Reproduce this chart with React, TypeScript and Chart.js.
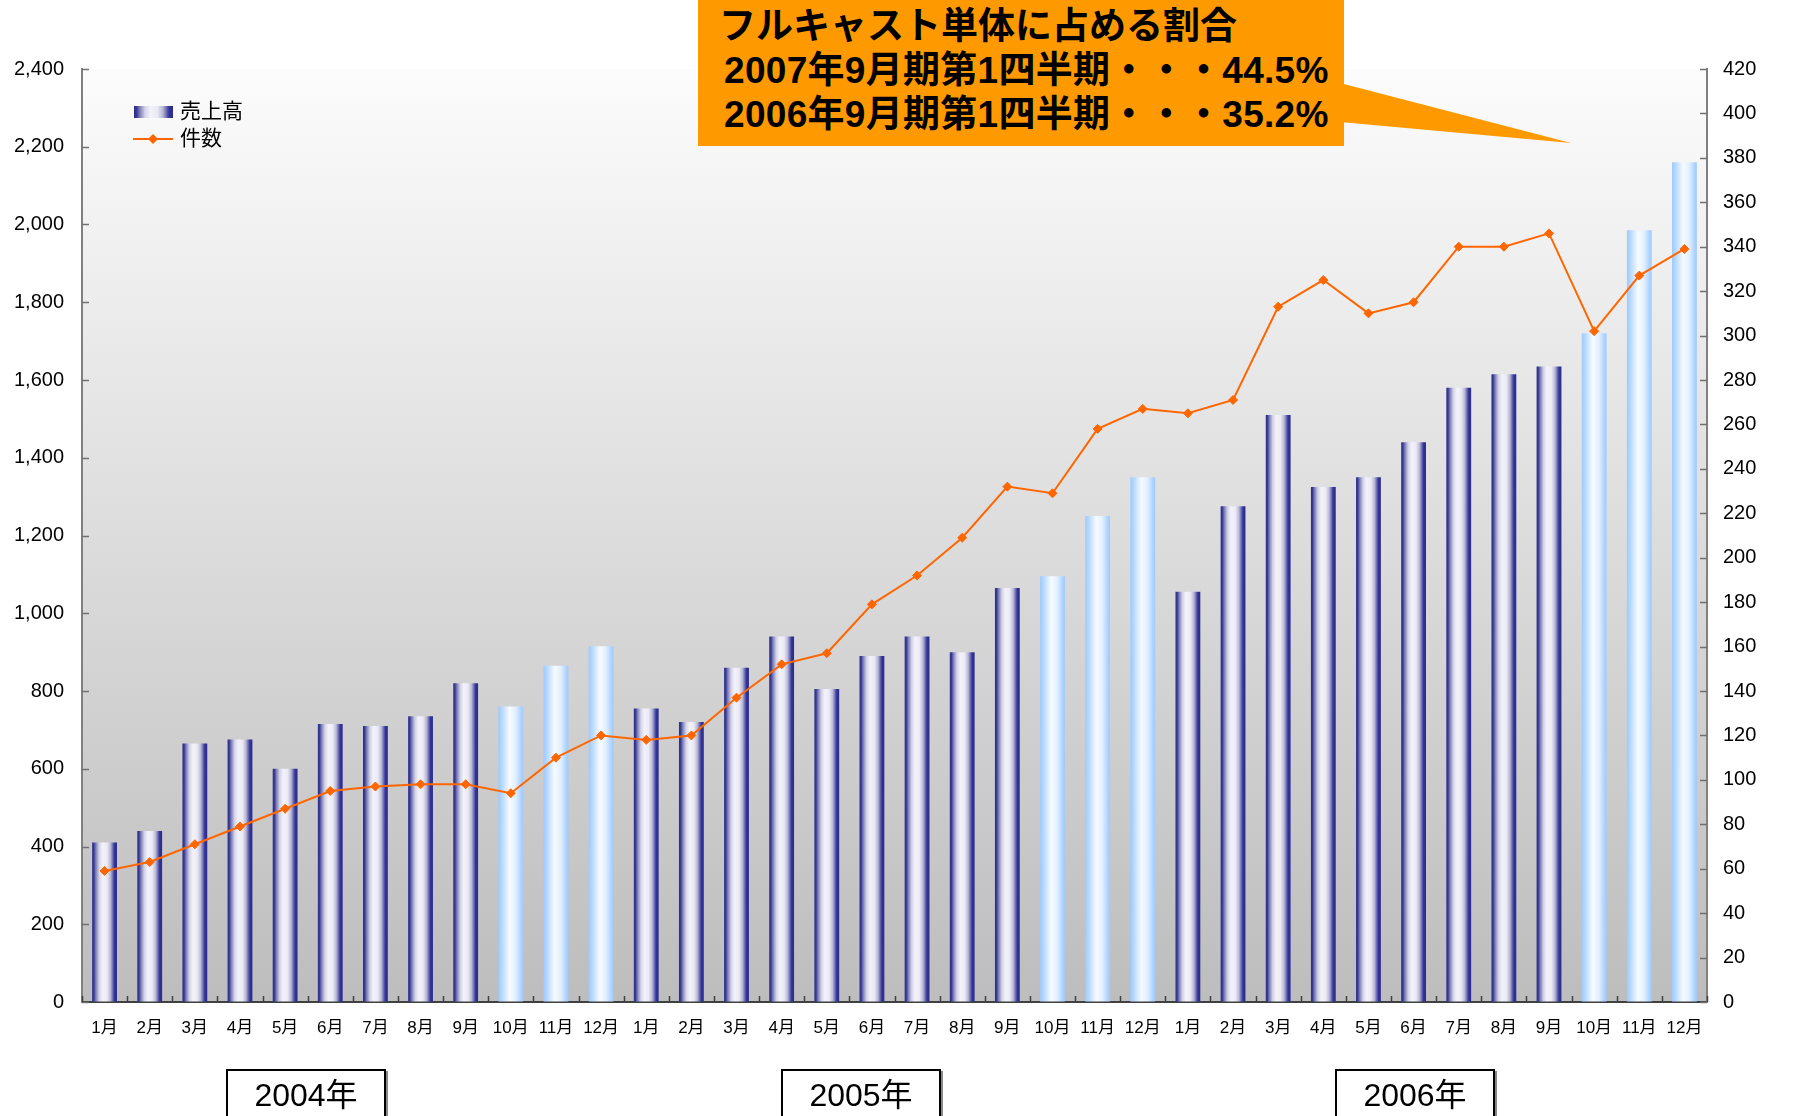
import React, { useEffect, useRef } from "react";
import { Chart, registerables } from "chart.js";

Chart.register(...registerables);

// ---------- data ----------
const months = ["1月", "2月", "3月", "4月", "5月", "6月", "7月", "8月", "9月", "10月", "11月", "12月"];
const years = ["2004年", "2005年", "2006年"];
const categories = years.flatMap(() => months);

const sales2004 = [410, 440, 665, 675, 600, 715, 710, 735, 820, 760, 865, 915];
const sales2005 = [755, 720, 860, 940, 805, 890, 940, 900, 1065, 1095, 1250, 1350];
const sales2006 = [1055, 1275, 1510, 1325, 1350, 1440, 1580, 1615, 1635, 1720, 1985, 2160];
const salesValues = [...sales2004, ...sales2005, ...sales2006];

const count2004 = [59, 63, 71, 79, 87, 95, 97, 98, 98, 94, 110, 120];
const count2005 = [118, 120, 137, 152, 157, 179, 192, 209, 232, 229, 258, 267];
const count2006 = [265, 271, 313, 325, 310, 315, 340, 340, 346, 302, 327, 339];
const countValues = [...count2004, ...count2005, ...count2006];

const salesAxis = { min: 0, max: 2400, step: 200 };
const countAxis = { min: 0, max: 420, step: 20 };

const seriesNames = ["売上高", "件数"];
const calloutLines = [
  "フルキャスト単体に占める割合",
  "2007年9月期第1四半期・・・44.5%",
  "2006年9月期第1四半期・・・35.2%",
];

// ---------- styles ----------
const W = 1807;
const H = 1116;
const BAR_PCT = 0.55;
const FONT = "'Liberation Sans', Arial, 'Noto Sans CJK JP', sans-serif";

const darkStops: [number, string][] = [
  [0, "#2b2b8c"],
  [0.07, "#3a3a98"],
  [0.14, "#7878b0"],
  [0.28, "#d2d2e8"],
  [0.42, "#f4f2f9"],
  [0.6, "#ebe9f4"],
  [0.74, "#b8b8d6"],
  [0.85, "#5c5caa"],
  [0.9, "#333399"],
  [1, "#2b2b8c"],
];
const lightStops: [number, string][] = [
  [0, "#9ccaff"],
  [0.15, "#b8d9ff"],
  [0.45, "#f7fbff"],
  [0.7, "#e0efff"],
  [0.9, "#b0d4ff"],
  [1, "#9ccaff"],
];

const isQ4 = (i: number) => i % 12 >= 9;

const barBg = (ctx: any) => {
  const chart = ctx.chart;
  const xs = chart.scales && chart.scales.x;
  if (!chart.chartArea || !xs || ctx.type !== "data") return "#333399";
  const i = ctx.dataIndex;
  const cx = xs.getPixelForValue(i);
  const w = (xs.width / categories.length) * BAR_PCT;
  const g = chart.ctx.createLinearGradient(cx - w / 2, 0, cx + w / 2, 0);
  (isQ4(i) ? lightStops : darkStops).forEach(([o, c]) => g.addColorStop(o, c));
  return g;
};

const bgPlugin = {
  id: "plotBg",
  beforeDraw(chart: any) {
    const { ctx, chartArea } = chart;
    const { left, top, right, bottom } = chartArea;
    ctx.save();
    ctx.fillStyle = "#ffffff";
    ctx.fillRect(0, 0, chart.width, chart.height);
    const g = ctx.createLinearGradient(0, top, 0, bottom);
    g.addColorStop(0, "#fcfcfc");
    g.addColorStop(1, "#bdbdbd");
    ctx.fillStyle = g;
    ctx.fillRect(left, top, right - left, bottom - top);
    ctx.restore();
  },
};

const ticksPlugin = {
  id: "innerTicks",
  afterDraw(chart: any) {
    const { ctx, chartArea, scales } = chart;
    const { left, right, bottom } = chartArea;
    ctx.save();
    ctx.lineWidth = 1.5;
    ctx.strokeStyle = "#707070";
    for (let v = salesAxis.min; v <= salesAxis.max; v += salesAxis.step) {
      const y = Math.round(scales.y.getPixelForValue(v)) + 0.5;
      ctx.beginPath();
      ctx.moveTo(left, y);
      ctx.lineTo(left + 7, y);
      ctx.stroke();
    }
    for (let v = countAxis.min; v <= countAxis.max; v += countAxis.step) {
      const y = Math.round(scales.y1.getPixelForValue(v)) + 0.5;
      ctx.beginPath();
      ctx.moveTo(right - 7, y);
      ctx.lineTo(right, y);
      ctx.stroke();
    }
    ctx.strokeStyle = "#404040";
    const n = categories.length;
    for (let i = 0; i <= n; i++) {
      const x = Math.round(left + ((right - left) * i) / n) + 0.5;
      ctx.beginPath();
      ctx.moveTo(x, bottom);
      ctx.lineTo(x, bottom - 6);
      ctx.stroke();
    }
    ctx.restore();
  },
};

const legendPlugin = {
  id: "customLegend",
  afterDraw(chart: any) {
    const { ctx } = chart;
    ctx.save();
    // bar swatch
    const g = ctx.createLinearGradient(134, 0, 173, 0);
    darkStops.forEach(([o, c]) => g.addColorStop(o, c));
    ctx.fillStyle = g;
    ctx.fillRect(134, 106, 39, 12);
    // line swatch
    ctx.strokeStyle = "#ff6600";
    ctx.lineWidth = 2;
    ctx.beginPath();
    ctx.moveTo(133, 139);
    ctx.lineTo(173, 139);
    ctx.stroke();
    ctx.fillStyle = "#ff6600";
    ctx.beginPath();
    ctx.moveTo(153, 134);
    ctx.lineTo(158, 139);
    ctx.lineTo(153, 144);
    ctx.lineTo(148, 139);
    ctx.closePath();
    ctx.fill();
    ctx.fillStyle = "#000";
    ctx.font = `21px ${FONT}`;
    ctx.textBaseline = "middle";
    ctx.textAlign = "left";
    ctx.fillText(seriesNames[0], 180, 112);
    ctx.fillText(seriesNames[1], 180, 139);
    ctx.restore();
  },
};

export default function App() {
  const ref = useRef<HTMLCanvasElement | null>(null);

  useEffect(() => {
    if (!ref.current) return;
    const chart = new Chart(ref.current, {
      type: "bar",
      data: {
        labels: categories,
        datasets: [
          {
            type: "line",
            label: seriesNames[1],
            data: countValues,
            yAxisID: "y1",
            borderColor: "#ff6600",
            borderWidth: 2,
            backgroundColor: "#ff6600",
            pointStyle: "rectRot",
            pointRadius: 4.5,
            pointBackgroundColor: "#ff6600",
            pointBorderColor: "#ff6600",
            pointBorderWidth: 1,
            tension: 0,
            order: 0,
          } as any,
          {
            type: "bar",
            label: seriesNames[0],
            data: salesValues,
            yAxisID: "y",
            backgroundColor: barBg,
            borderWidth: 0,
            barPercentage: BAR_PCT,
            categoryPercentage: 1,
            order: 1,
          } as any,
        ],
      },
      options: {
        responsive: false,
        animation: false,
        devicePixelRatio: 1,
        layout: { padding: { top: 69, left: 0, right: 0, bottom: 0 } },
        plugins: {
          legend: { display: false },
          tooltip: { enabled: false },
        },
        scales: {
          x: {
            afterFit: (s: any) => {
              s.height = 114;
            },
            grid: { display: true, drawOnChartArea: false, drawTicks: false, offset: true },
            border: { display: true, color: "#404040", width: 2 },
            ticks: {
              autoSkip: false,
              maxRotation: 0,
              minRotation: 0,
              padding: 16,
              color: "#000",
              font: { size: 17, family: FONT },
            },
          },
          y: {
            position: "left",
            min: salesAxis.min,
            max: salesAxis.max,
            afterFit: (s: any) => {
              s.width = 82;
            },
            grid: { display: true, drawOnChartArea: false, drawTicks: false },
            border: { display: true, color: "#808080", width: 2 },
            ticks: {
              stepSize: salesAxis.step,
              padding: 18,
              color: "#000",
              font: { size: 20, family: FONT },
              callback: (v: any) => Number(v).toLocaleString("en-US"),
            },
          },
          y1: {
            position: "right",
            min: countAxis.min,
            max: countAxis.max,
            afterFit: (s: any) => {
              s.width = 100;
            },
            grid: { display: true, drawOnChartArea: false, drawTicks: false },
            border: { display: true, color: "#808080", width: 2 },
            ticks: {
              stepSize: countAxis.step,
              padding: 16,
              color: "#000",
              font: { size: 20, family: FONT },
            },
          },
        },
      } as any,
      plugins: [bgPlugin, ticksPlugin, legendPlugin],
    });
    return () => chart.destroy();
  }, []);

  const yearBoxLefts = [226, 781, 1335];

  return (
    <div
      style={{
        position: "fixed",
        left: 0,
        top: 0,
        width: W,
        height: H,
        overflow: "hidden",
        background: "#fff",
        fontFamily: FONT,
      }}
    >
      <canvas ref={ref} width={W} height={H} style={{ position: "absolute", left: 0, top: 0, width: W, height: H }} />
      <svg width={W} height={H} style={{ position: "absolute", left: 0, top: 0, pointerEvents: "none" }}>
        <polygon points="1340,83 1571,143 1340,122" fill="#ff9900" />
      </svg>
      <div
        style={{
          position: "absolute",
          left: 698,
          top: 0,
          width: 646,
          height: 146,
          background: "#ff9900",
          color: "#000",
          fontWeight: "bold",
          fontSize: 37,
          lineHeight: "44px",
          paddingTop: 5,
          boxSizing: "border-box",
          fontFamily: "'Liberation Sans', 'Noto Sans CJK JP', sans-serif",
          whiteSpace: "nowrap",
        }}
      >
        <div style={{ paddingLeft: 21 }}>{calloutLines[0]}</div>
        <div style={{ paddingLeft: 26, letterSpacing: 0.3 }}>{calloutLines[1]}</div>
        <div style={{ paddingLeft: 26, letterSpacing: 0.3 }}>{calloutLines[2]}</div>
      </div>
      {years.map((y, i) => (
        <div
          key={y}
          style={{
            position: "absolute",
            left: yearBoxLefts[i],
            top: 1069,
            width: 160,
            height: 70,
            boxSizing: "border-box",
            border: "2px solid #000",
            boxShadow: "2px 2px 0 #888",
            background: "#fff",
            textAlign: "center",
            fontSize: 32,
            lineHeight: "48px",
            color: "#000",
          }}
        >
          {y}
        </div>
      ))}
    </div>
  );
}
